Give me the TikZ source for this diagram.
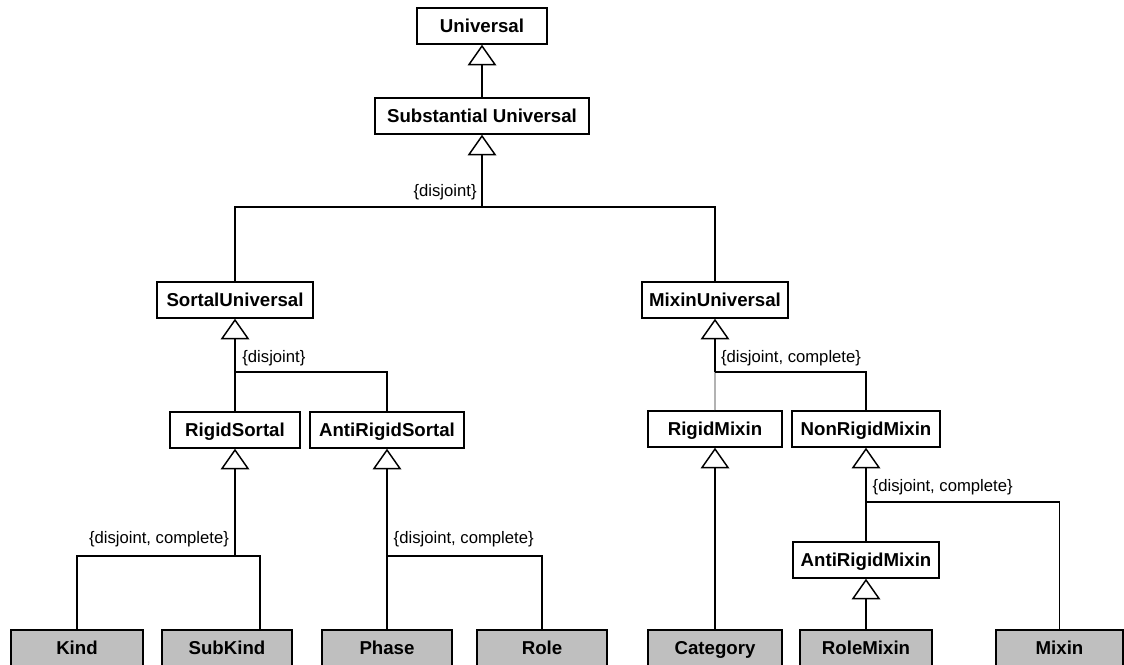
\documentclass[tikz,border=0pt]{standalone}
\usepackage{fontspec}
\setmainfont{Liberation Sans}
\usetikzlibrary{arrows.meta, positioning}

\begin{document}
\begin{tikzpicture}[x=0.75pt, y=-0.75pt, line width=1.1pt,
  cls/.style={draw, fill=white, font=\fontsize{14}{16}\selectfont\bfseries, inner sep=0pt, minimum height=27pt, text height=10.2pt, text depth=0pt},
  leaf/.style={cls, fill=gray!50},
  gen/.style={-{Triangle[open, width=21.5pt, length=15.5pt]}},
  constr/.style={font=\fontsize{12.5}{14}\selectfont, inner sep=0pt}]
\useasboundingbox (0,0) rectangle (1124,664);
\clip (0,0) rectangle (1124,664);
% classes
\node[cls, minimum width=97.5pt] (universal) at (482,26) {Universal};
\node[cls, minimum width=160.5pt] (substantial) at (482,116) {Substantial Universal};
\node[cls, minimum width=117pt] (sortal) at (235,300) {SortalUniversal};
\node[cls, minimum width=109.5pt] (mixinu) at (715,300) {MixinUniversal};
\node[cls, minimum width=97.5pt] (rigidsortal) at (235,430) {RigidSortal};
\node[cls, minimum width=115.5pt] (antirigidsortal) at (387,430) {AntiRigidSortal};
\node[cls, minimum width=100.5pt] (rigidmixin) at (715,429) {RigidMixin};
\node[cls, minimum width=111pt] (nonrigidmixin) at (866,429) {NonRigidMixin};
\node[cls, minimum width=109.5pt] (antirigidmixin) at (866,560) {AntiRigidMixin};
% leaf classes
\node[leaf, minimum width=99pt] (kind) at (77,648) {Kind};
\node[leaf, minimum width=97.5pt] (subkind) at (227,648) {SubKind};
\node[leaf, minimum width=97.5pt] (phase) at (387,648) {Phase};
\node[leaf, minimum width=97.5pt] (role) at (542,648) {Role};
\node[leaf, minimum width=100.5pt] (category) at (715,648) {Category};
\node[leaf, minimum width=99pt] (rolemixin) at (866,648) {RoleMixin};
\node[leaf, minimum width=95.25pt] (mixin) at (1059.5,648) {Mixin};
% generalization sets
\coordinate (gsTop) at (482,207);
\coordinate (gsSortal) at (235,372);
\coordinate (gsMixin) at (715,372);
\coordinate (gsRigid) at (235,556);
\coordinate (gsAnti) at (387,556);
\coordinate (gsNonRigid) at (866,502);
\draw[gen] (substantial) -- (universal);
\draw (sortal) |- (gsTop) -| (mixinu);
\draw[gen] (gsTop) -- (substantial);
\draw (rigidsortal) -- (gsSortal) -| (antirigidsortal);
\draw[gen] (gsSortal) -- (sortal);
\draw (kind) |- (gsRigid) -| ([xshift=24.75pt]subkind.north);
\draw[gen] (gsRigid) -- (rigidsortal);
\draw (phase) -- (gsAnti) -| (role);
\draw[gen] (gsAnti) -- (antirigidsortal);
\draw[gray!60] (rigidmixin) -- (gsMixin);
\draw (gsMixin) -| (nonrigidmixin);
\draw[gen] (gsMixin) -- (mixinu);
\draw[gen] (category) -- (rigidmixin);
\draw (antirigidmixin) -- (gsNonRigid) -| (mixin);
\draw[gen] (gsNonRigid) -- (nonrigidmixin);
\draw[gen] (rolemixin) -- (antirigidmixin);
% constraints
\node[constr, above left=4.5pt and 3.5pt of gsTop] (lblTop) {\{disjoint\}};
\node[constr, above right=4pt and 5pt of gsSortal] (lblSortal) {\{disjoint\}};
\node[constr, above right=4pt and 4pt of gsMixin] (lblMixin) {\{disjoint, complete\}};
\node[constr, above left=6pt and 4pt of gsRigid] (lblRigid) {\{disjoint, complete\}};
\node[constr, above right=6pt and 4.5pt of gsAnti] (lblAnti) {\{disjoint, complete\}};
\node[constr, above right=5pt and 4.5pt of gsNonRigid] (lblNonRigid) {\{disjoint, complete\}};
\end{tikzpicture}
\end{document}
